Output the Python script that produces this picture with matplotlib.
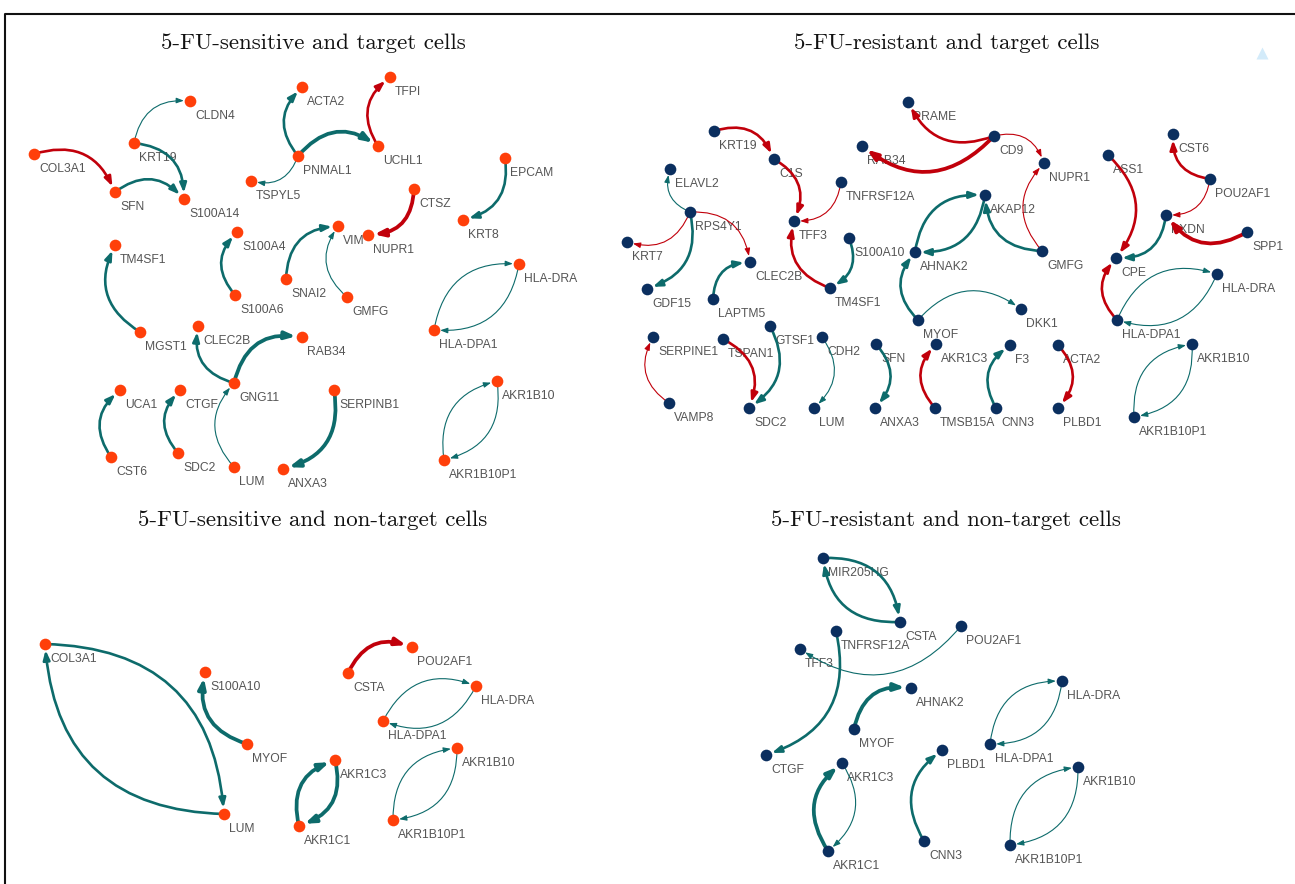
import matplotlib.pyplot as plt
from matplotlib.patches import FancyArrowPatch

# ---- 5-FU-sensitive, target cells ----
s_target_genes = ["TFPI", "ACTA2", "CLDN4", "KRT19", "COL3A1", "PNMAL1", "UCHL1", "EPCAM",
                  "TSPYL5", "SFN", "S100A14", "CTSZ", "KRT8", "S100A4", "VIM", "NUPR1",
                  "TM4SF1", "SNAI2", "S100A6", "GMFG", "HLA-DRA", "MGST1", "CLEC2B", "RAB34",
                  "HLA-DPA1", "GNG11", "UCA1", "CTGF", "SERPINB1", "AKR1B10", "CST6", "SDC2",
                  "LUM", "ANXA3", "AKR1B10P1"]
s_target_x = [390, 302, 190, 134, 34, 298, 378, 505, 251, 115, 184, 414, 463, 237, 338, 368,
              115, 286, 235, 347, 519, 140, 198, 302, 434, 234, 120, 180, 334, 497, 111, 178,
              234, 283, 444]
s_target_y = [77, 87, 101, 143, 154, 156, 146, 158, 181, 192, 199, 189, 220, 232, 226, 235,
              245, 279, 295, 297, 264, 332, 326, 337, 330, 383, 390, 390, 390, 381, 457, 453,
              467, 469, 460]
# (source, target, sign, weight): sign 1 = teal, -1 = red
s_target_edges = [
    ("COL3A1", "SFN", -1, 2), ("KRT19", "CLDN4", 1, 1), ("KRT19", "S100A14", 1, 2),
    ("SFN", "S100A14", 1, 2), ("PNMAL1", "ACTA2", 1, 2), ("PNMAL1", "UCHL1", 1, 3),
    ("UCHL1", "TFPI", -1, 2), ("PNMAL1", "TSPYL5", 1, 1), ("EPCAM", "KRT8", 1, 2),
    ("CTSZ", "NUPR1", -1, 3), ("MGST1", "TM4SF1", 1, 2), ("S100A6", "S100A4", 1, 2),
    ("SNAI2", "VIM", 1, 2), ("GMFG", "VIM", 1, 1), ("HLA-DPA1", "HLA-DRA", 1, 1),
    ("HLA-DRA", "HLA-DPA1", 1, 1), ("GNG11", "CLEC2B", 1, 2), ("GNG11", "RAB34", 1, 3),
    ("CST6", "UCA1", 1, 2), ("SDC2", "CTGF", 1, 2), ("LUM", "GNG11", 1, 1),
    ("SERPINB1", "ANXA3", 1, 3), ("AKR1B10P1", "AKR1B10", 1, 1), ("AKR1B10", "AKR1B10P1", 1, 1),
]

# ---- 5-FU-resistant, target cells ----
r_target_genes = ["PRAME", "KRT19", "CD9", "RAB34", "C1S", "NUPR1", "ASS1", "CST6", "POU2AF1",
                  "ELAVL2", "TNFRSF12A", "AKAP12", "RPS4Y1", "TFF3", "PXDN", "SPP1", "S100A10",
                  "KRT7", "AHNAK2", "GMFG", "CPE", "CLEC2B", "HLA-DRA", "GDF15", "TM4SF1",
                  "LAPTM5", "DKK1", "MYOF", "HLA-DPA1", "GTSF1", "SERPINE1", "TSPAN1", "CDH2",
                  "SFN", "AKR1C3", "F3", "ACTA2", "AKR1B10", "VAMP8", "SDC2", "LUM", "ANXA3",
                  "TMSB15A", "CNN3", "PLBD1", "AKR1B10P1"]
r_target_x = [908, 714, 994, 862, 774, 1044, 1108, 1173, 1210, 670, 841, 985, 690, 794, 1166,
              1247, 849, 627, 915, 1042, 1116, 750, 1217, 647, 830, 713, 1021, 918, 1117, 770,
              653, 723, 822, 876, 936, 1010, 1058, 1192, 669, 749, 814, 875, 935, 996, 1058, 1134]
r_target_y = [102, 131, 136, 146, 159, 163, 155, 134, 179, 169, 182, 195, 212, 221, 215, 232,
              238, 242, 252, 251, 258, 262, 274, 289, 288, 299, 309, 320, 320, 326, 337, 339,
              337, 344, 344, 345, 345, 344, 403, 408, 408, 408, 408, 408, 408, 417]
r_target_edges = [
    ("KRT19", "C1S", -1, 2), ("C1S", "TFF3", -1, 2), ("TNFRSF12A", "TFF3", -1, 1),
    ("TM4SF1", "TFF3", -1, 2), ("S100A10", "TM4SF1", 1, 2), ("CD9", "PRAME", -1, 2),
    ("CD9", "RAB34", -1, 3), ("CD9", "NUPR1", -1, 1), ("GMFG", "NUPR1", -1, 1),
    ("ASS1", "CPE", -1, 2), ("POU2AF1", "CST6", -1, 2), ("POU2AF1", "PXDN", -1, 1),
    ("SPP1", "PXDN", -1, 3), ("PXDN", "CPE", 1, 2), ("HLA-DPA1", "CPE", -1, 2),
    ("HLA-DPA1", "HLA-DRA", 1, 1), ("HLA-DRA", "HLA-DPA1", 1, 1),
    ("AKR1B10P1", "AKR1B10", 1, 1), ("AKR1B10", "AKR1B10P1", 1, 1),
    ("RPS4Y1", "ELAVL2", 1, 1), ("RPS4Y1", "KRT7", -1, 1), ("RPS4Y1", "CLEC2B", -1, 1),
    ("RPS4Y1", "GDF15", 1, 2), ("LAPTM5", "CLEC2B", 1, 2), ("AHNAK2", "AKAP12", 1, 2),
    ("AKAP12", "AHNAK2", 1, 2), ("GMFG", "AKAP12", 1, 2), ("MYOF", "AHNAK2", 1, 2),
    ("MYOF", "DKK1", 1, 1), ("VAMP8", "SERPINE1", -1, 1), ("TSPAN1", "SDC2", -1, 2),
    ("GTSF1", "SDC2", 1, 2), ("CDH2", "LUM", 1, 1), ("SFN", "ANXA3", 1, 2),
    ("TMSB15A", "AKR1C3", -1, 2), ("CNN3", "F3", 1, 2), ("ACTA2", "PLBD1", -1, 2),
]

# ---- 5-FU-sensitive, non-target cells ----
s_nontarget_genes = ["COL3A1", "S100A10", "CSTA", "POU2AF1", "HLA-DRA", "HLA-DPA1", "MYOF",
                     "AKR1B10", "AKR1C3", "LUM", "AKR1C1", "AKR1B10P1"]
s_nontarget_x = [45, 205, 348, 412, 476, 383, 247, 457, 335, 224, 299, 393]
s_nontarget_y = [644, 672, 673, 647, 686, 721, 744, 748, 760, 814, 826, 820]
s_nontarget_edges = [
    ("COL3A1", "LUM", 1, 2), ("LUM", "COL3A1", 1, 2), ("MYOF", "S100A10", 1, 3),
    ("CSTA", "POU2AF1", -1, 3), ("HLA-DPA1", "HLA-DRA", 1, 1), ("HLA-DRA", "HLA-DPA1", 1, 1),
    ("AKR1C1", "AKR1C3", 1, 3), ("AKR1C3", "AKR1C1", 1, 3),
    ("AKR1B10P1", "AKR1B10", 1, 1), ("AKR1B10", "AKR1B10P1", 1, 1),
]

# ---- 5-FU-resistant, non-target cells ----
r_nontarget_genes = ["MIR205HG", "CSTA", "POU2AF1", "TNFRSF12A", "TFF3", "AHNAK2", "HLA-DRA",
                     "MYOF", "HLA-DPA1", "PLBD1", "CTGF", "AKR1C3", "AKR1B10", "CNN3",
                     "AKR1B10P1", "AKR1C1"]
r_nontarget_x = [823, 900, 961, 836, 800, 911, 1062, 854, 990, 942, 766, 842, 1078, 924, 1010, 828]
r_nontarget_y = [558, 622, 626, 631, 649, 688, 681, 729, 744, 750, 755, 763, 767, 841, 845, 851]
r_nontarget_edges = [
    ("MIR205HG", "CSTA", 1, 2), ("CSTA", "MIR205HG", 1, 2), ("TNFRSF12A", "CTGF", 1, 2),
    ("POU2AF1", "TFF3", 1, 1), ("MYOF", "AHNAK2", 1, 3), ("CNN3", "PLBD1", 1, 2),
    ("HLA-DPA1", "HLA-DRA", 1, 1), ("HLA-DRA", "HLA-DPA1", 1, 1),
    ("AKR1C1", "AKR1C3", 1, 3), ("AKR1C3", "AKR1C1", 1, 1),
    ("AKR1B10P1", "AKR1B10", 1, 1), ("AKR1B10", "AKR1B10P1", 1, 1),
]

titles = ["5-FU-sensitive and target cells", "5-FU-resistant and target cells",
          "5-FU-sensitive and non-target cells", "5-FU-resistant and non-target cells"]
title_x = [313, 947, 313, 946]
title_y = [43, 43, 520, 520]

SENSITIVE = "#ff3f0a"
RESISTANT = "#0b2f5f"
EDGE_COLORS = {1: "#0d6b6b", -1: "#c1000b"}
EDGE_WIDTH = {1: 0.8, 2: 1.9, 3: 2.7}
HEAD_SCALE = {1: 8, 2: 10, 3: 11}

fig = plt.figure(figsize=(12.95, 8.84), dpi=100)
ax = fig.add_axes([0, 0, 1, 1])
ax.set_xlim(0, 1295)
ax.set_ylim(884, 0)
ax.axis("off")


def draw_network(genes, xs, ys, edges, node_color):
    pos = {g: (x, y) for g, x, y in zip(genes, xs, ys)}
    for src, dst, sign, w in edges:
        arr = FancyArrowPatch(pos[src], pos[dst], connectionstyle="arc3,rad=-0.45",
                              arrowstyle="-|>,head_length=0.55,head_width=0.2",
                              mutation_scale=HEAD_SCALE[w], lw=EDGE_WIDTH[w],
                              color=EDGE_COLORS[sign], shrinkA=0, shrinkB=4.4, zorder=2)
        ax.add_patch(arr)
    ax.plot(xs, ys, "o", ms=8.4, color=node_color, mec="none", zorder=3)
    for g, x, y in zip(genes, xs, ys):
        ax.text(x + 5, y + 15, g, ha="left", va="center", fontsize=8.7,
                color="#555555", family="Liberation Sans", zorder=1)


draw_network(s_target_genes, s_target_x, s_target_y, s_target_edges, SENSITIVE)
draw_network(r_target_genes, r_target_x, r_target_y, r_target_edges, RESISTANT)
draw_network(s_nontarget_genes, s_nontarget_x, s_nontarget_y, s_nontarget_edges, SENSITIVE)
draw_network(r_nontarget_genes, r_nontarget_x, r_nontarget_y, r_nontarget_edges, RESISTANT)

for t, tx, ty in zip(titles, title_x, title_y):
    ax.text(tx, ty, t, ha="center", va="center", fontsize=16.5,
            family=["cmr10", "DejaVu Serif"], color="#111111")

# outer frame (top and left edges only)
ax.plot([5, 5, 1300], [890, 14, 14], color="#111111", lw=1.5, solid_capstyle="butt", zorder=5)
# small pale marker at the top right
ax.plot(1262, 53, marker="^", ms=9, color="#d3ebfa", mec="none")

fig.savefig("out.png", dpi=100)
